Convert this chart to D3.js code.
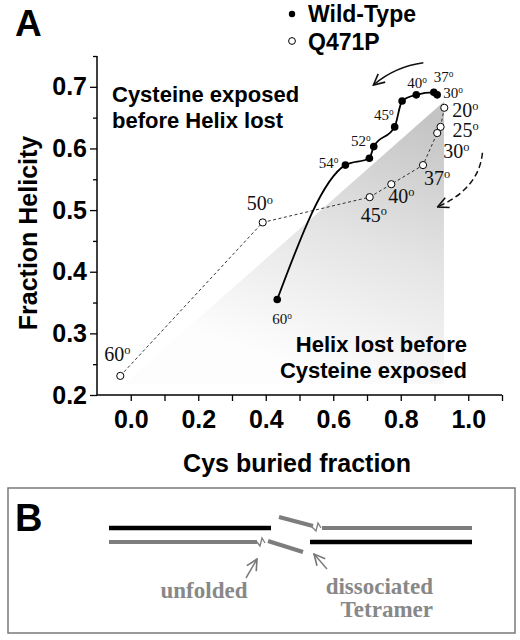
<!DOCTYPE html>
<html>
<head>
<meta charset="utf-8">
<script src="https://cdn.jsdelivr.net/npm/d3@7"></script>
<style>
  body { margin: 0; background: #fff; }
  svg { display: block; }
</style>
</head>
<body>
<script>
// wild-type points (temperature in deg C, "" = unlabeled point)
var wtTemp = ["30", "37", "40", "", "45", "52", "", "54", "60"];
var wtCys  = [0.908, 0.898, 0.846, 0.804, 0.782, 0.720, 0.707, 0.636, 0.434];
var wtHel  = [0.687, 0.691, 0.687, 0.677, 0.635, 0.603, 0.584, 0.573, 0.355];

// Q471P points
var mutTemp = ["20", "25", "30", "37", "40", "45", "50", "60"];
var mutCys  = [0.929, 0.918, 0.908, 0.866, 0.772, 0.708, 0.391, -0.031];
var mutHel  = [0.666, 0.635, 0.625, 0.573, 0.542, 0.521, 0.480, 0.231];

// axis ticks
var xTicks = [0, 0.1, 0.2, 0.3, 0.4, 0.5, 0.6, 0.7, 0.8, 0.9, 1.0, 1.1];
var xLabels = [0, 0.2, 0.4, 0.6, 0.8, 1.0];
var yMajor = [0.2, 0.3, 0.4, 0.5, 0.6, 0.7];
var yMinor = [0.25, 0.35, 0.45, 0.55, 0.65, 0.75];

// shaded region corners (data units)
var shadeCys = [0.928, 0.928, -0.02];
var shadeHel = [0.676, 0.218, 0.218];

// label nudges in px (layout only)
var wtLabelPos = [[6, 3, "start"], [0, -10, "start"], [-9, -7, "start"], null,
                  [-1, -7, "end"], [-3, -1, "end"], null, [-7, 3, "end"], [-5, 25, "start"]];
var mutLabelPos = [[8, 9], [12, 10], [6, 25], [1, 20], [-3, 19], [-9, 25], [-16, -12], [-16, -15]];

var sans = "'Liberation Sans', Arial, sans-serif";
var serif = "'Liberation Serif', 'Times New Roman', serif";

var svg = d3.select("body").append("svg")
  .attr("width", 520)
  .attr("height", 640);

var defs = svg.append("defs");
var grad = defs.append("linearGradient").attr("id", "shade")
  .attr("x1", 0.8).attr("y1", 0).attr("x2", 0.45).attr("y2", 0.9);
grad.append("stop").attr("offset", 0).attr("stop-color", "#c4c4c4");
grad.append("stop").attr("offset", 0.5).attr("stop-color", "#e4e4e4");
grad.append("stop").attr("offset", 1).attr("stop-color", "#fdfdfd");

function arrowMarker(id, color) {
  defs.append("marker").attr("id", id)
    .attr("viewBox", "0 0 12 12").attr("refX", 11).attr("refY", 6)
    .attr("markerWidth", 13).attr("markerHeight", 13)
    .attr("markerUnits", "userSpaceOnUse")
    .attr("orient", "auto")
    .append("path").attr("d", "M1,1 L11,6 L1,11")
    .attr("fill", "none").attr("stroke", color).attr("stroke-width", 1.5);
}
arrowMarker("arrBlack", "#111");
arrowMarker("arrGray", "#777");

var x = d3.scaleLinear().domain([-0.1, 1.1]).range([97, 502]);
var y = d3.scaleLinear().domain([0.2, 0.75]).range([395, 56]);

// shaded triangle
svg.append("path")
  .datum(d3.range(shadeCys.length))
  .attr("d", d3.line().x(i => x(shadeCys[i])).y(i => y(shadeHel[i])).curve(d3.curveLinearClosed))
  .attr("fill", "url(#shade)");

// axes
var yAxis = svg.append("g").attr("transform", "translate(97,0)")
  .call(d3.axisLeft(y).tickValues(yMajor).tickSize(7).tickPadding(3).tickFormat(d3.format(".1f")));
svg.append("g").attr("transform", "translate(97,0)")
  .call(d3.axisLeft(y).tickValues(yMinor).tickSize(4).tickFormat(""))
  .select(".domain").remove();

var xAxis = svg.append("g").attr("transform", "translate(0,395)")
  .call(d3.axisBottom(x).tickValues(xTicks).tickSize(6).tickPadding(9)
    .tickFormat(d => xLabels.some(v => Math.abs(v - d) < 1e-9) ? d3.format(".1f")(d) : ""));

svg.selectAll(".domain").attr("stroke", "#000").attr("stroke-width", 1.5);
svg.selectAll(".tick line").attr("stroke", "#000").attr("stroke-width", 1.3);
svg.selectAll(".tick text").attr("font-family", sans).attr("font-weight", "bold")
  .attr("font-size", 25).attr("fill", "#000");
// plain axis lines without outer ticks
yAxis.select(".domain").attr("d", "M0," + y(0.75) + "V" + y(0.2));
xAxis.select(".domain").attr("d", "M" + x(-0.1) + ",0H" + x(1.1));

// axis titles
svg.append("text")
  .attr("x", 297).attr("y", 472)
  .attr("text-anchor", "middle")
  .attr("font-family", sans).attr("font-weight", "bold").attr("font-size", 25)
  .text("Cys buried fraction");

svg.append("text")
  .attr("transform", "translate(37,233) rotate(-90)")
  .attr("text-anchor", "middle")
  .attr("font-family", sans).attr("font-weight", "bold").attr("font-size", 25)
  .text("Fraction Helicity");

// region annotations
var ann1 = svg.append("text").attr("font-family", sans).attr("font-weight", "bold").attr("font-size", 22);
ann1.append("tspan").attr("x", 112).attr("y", 102).text("Cysteine exposed");
ann1.append("tspan").attr("x", 112).attr("y", 128).text("before Helix lost");

var ann2 = svg.append("text").attr("font-family", sans).attr("font-weight", "bold").attr("font-size", 22)
  .attr("text-anchor", "end");
ann2.append("tspan").attr("x", 467).attr("y", 352).text("Helix lost before");
ann2.append("tspan").attr("x", 467).attr("y", 378).text("Cysteine exposed");

// Q471P dashed line
var mutIdx = d3.range(mutCys.length);
svg.append("path")
  .datum(mutIdx)
  .attr("d", d3.line().x(i => x(mutCys[i])).y(i => y(mutHel[i])))
  .attr("fill", "none").attr("stroke", "#333").attr("stroke-width", 1)
  .attr("stroke-dasharray", "3,2.5");

// wild-type smooth line
var wtIdx = d3.range(wtCys.length).sort((a, b) => wtCys[a] - wtCys[b]);
svg.append("path")
  .datum(wtIdx)
  .attr("d", d3.line().x(i => x(wtCys[i])).y(i => y(wtHel[i])).curve(d3.curveMonotoneX))
  .attr("fill", "none").attr("stroke", "#000").attr("stroke-width", 1.8);

// markers
svg.selectAll(".mut").data(mutIdx).enter().append("circle")
  .attr("cx", i => x(mutCys[i])).attr("cy", i => y(mutHel[i])).attr("r", 3.6)
  .attr("fill", "#fff").attr("stroke", "#000").attr("stroke-width", 1);

svg.selectAll(".wt").data(d3.range(wtCys.length)).enter().append("circle")
  .attr("cx", i => x(wtCys[i])).attr("cy", i => y(wtHel[i])).attr("r", 3.8)
  .attr("fill", "#000");

// temperature labels
function degLabel(g, txt, px, py, anchor, size) {
  var t = g.append("text").attr("x", px).attr("y", py)
    .attr("text-anchor", anchor)
    .attr("font-family", serif).attr("font-size", size).attr("fill", "#111");
  t.append("tspan").text(txt);
  t.append("tspan").attr("font-size", size * 0.62).attr("dy", -size * 0.34).text("o");
}
var labels = svg.append("g");
wtTemp.forEach((t, i) => {
  if (!t) return;
  var p = wtLabelPos[i];
  degLabel(labels, t, x(wtCys[i]) + p[0], y(wtHel[i]) + p[1], p[2], 15);
});
mutTemp.forEach((t, i) => {
  var p = mutLabelPos[i];
  degLabel(labels, t, x(mutCys[i]) + p[0], y(mutHel[i]) + p[1], "start", 20);
});

// direction arrows (data units)
var solidArrow = [[0.867, 0.739], [0.784, 0.733], [0.719, 0.703]];
var dashArrow = [[1.042, 0.593], [1.032, 0.535], [0.909, 0.505]];
function curvePath(pts) {
  var p = pts.map(d => [x(d[0]), y(d[1])]);
  return "M" + p[0] + "Q" + p[1] + " " + p[2];
}
svg.append("path").attr("d", curvePath(solidArrow))
  .attr("fill", "none").attr("stroke", "#111").attr("stroke-width", 1.5)
  .attr("marker-end", "url(#arrBlack)");
svg.append("path").attr("d", curvePath(dashArrow))
  .attr("fill", "none").attr("stroke", "#111").attr("stroke-width", 1.5)
  .attr("stroke-dasharray", "6,3.5")
  .attr("marker-end", "url(#arrBlack)");

// legend
svg.append("circle").attr("cx", 292).attr("cy", 14).attr("r", 3.2).attr("fill", "#000");
svg.append("circle").attr("cx", 292).attr("cy", 41).attr("r", 3.4)
  .attr("fill", "#fff").attr("stroke", "#000").attr("stroke-width", 1);
svg.append("text").attr("x", 308).attr("y", 22)
  .attr("font-family", sans).attr("font-weight", "bold").attr("font-size", 23).text("Wild-Type");
svg.append("text").attr("x", 308).attr("y", 50)
  .attr("font-family", sans).attr("font-weight", "bold").attr("font-size", 23).text("Q471P");

// panel letter A
svg.append("text").attr("x", 15).attr("y", 36)
  .attr("font-family", sans).attr("font-weight", "bold").attr("font-size", 37).text("A");

// ---- panel B schematic ----
var gB = svg.append("g");
gB.append("rect").attr("x", 8).attr("y", 488).attr("width", 507).attr("height", 145)
  .attr("fill", "none").attr("stroke", "#7a7a7a").attr("stroke-width", 1.5);
gB.append("text").attr("x", 15).attr("y", 531)
  .attr("font-family", sans).attr("font-weight", "bold").attr("font-size", 38).text("B");

var gray = "#7d7d7d";
function seg(d, color, w) {
  gB.append("path").attr("d", d).attr("fill", "none")
    .attr("stroke", color).attr("stroke-width", w);
}
// top strand: black helix, broken gray
seg("M109,528H271", "#000", 4.5);
seg("M279,517L313,526", gray, 4);
seg("M312,527L316,531L318,523L321,528", gray, 1.3);
seg("M322,528H472", gray, 4);
// bottom strand: gray broken, black helix
seg("M109,542H257", gray, 4);
seg("M257,542L260,546L262,538L265,543", gray, 1.3);
seg("M268,541L303,552", gray, 4);
seg("M310,542H472", "#000", 4.5);

// pointer arrows
gB.append("path").attr("d", "M246,578L257,559")
  .attr("stroke", gray).attr("stroke-width", 1.5).attr("fill", "none")
  .attr("marker-end", "url(#arrGray)");
gB.append("path").attr("d", "M327,569L314,554")
  .attr("stroke", gray).attr("stroke-width", 1.5).attr("fill", "none")
  .attr("marker-end", "url(#arrGray)");

gB.append("text").attr("x", 204).attr("y", 598).attr("text-anchor", "middle")
  .attr("font-family", serif).attr("font-weight", "bold").attr("font-size", 23)
  .attr("fill", "#888").text("unfolded");
var tB = gB.append("text").attr("text-anchor", "end")
  .attr("font-family", serif).attr("font-weight", "bold").attr("font-size", 23).attr("fill", "#888");
tB.append("tspan").attr("x", 433).attr("y", 594).text("dissociated");
tB.append("tspan").attr("x", 433).attr("y", 617).text("Tetramer");
</script>
</body>
</html>
